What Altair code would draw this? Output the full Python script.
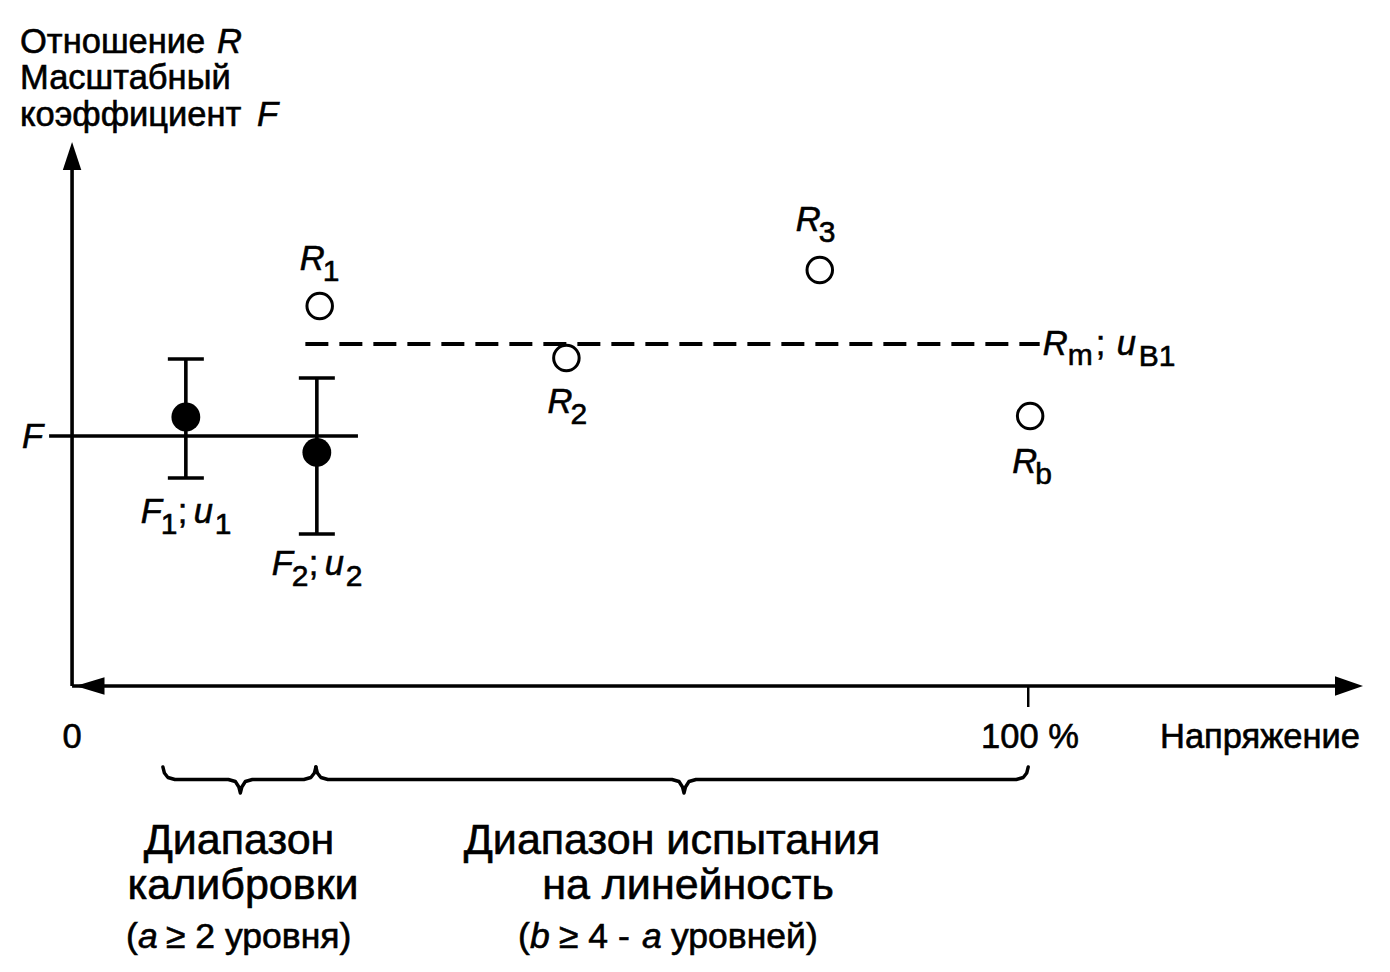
import altair as alt
import pandas as pd

# ---------------- chart geometry (plot area = whole page area) ----------------
W, H = 1374, 956
X_DOM = [-6.7, 137.0]          # voltage, % of full range
Y_DOM = [0.9736, 1.0214]       # ratio R / scale factor F
SX = (X_DOM[1] - X_DOM[0]) / W
SY = (Y_DOM[1] - Y_DOM[0]) / H


def px2x(px):
    return X_DOM[0] + (px - 8) * SX


def py2y(py):
    return Y_DOM[1] - (py - 8) * SY


def x2px(x):
    return 8 + (x - X_DOM[0]) / SX


def y2py(y):
    return 8 + (Y_DOM[1] - y) / SY


# ---------------- data ----------------
calib_names = ["1", "2"]
calib_x = [11.9, 25.6]
calib_F = [1.00095, 0.99918]
calib_hi = [1.00385, 1.00290]
calib_lo = [0.99790, 0.99510]

lin_names = ["1", "2", "3", "b"]
lin_x = [25.9, 51.7, 78.2, 100.2]
lin_R = [1.0065, 1.0039, 1.0083, 1.0010]

F_mean = 1.0
F_line_x = [-2.4, 29.9]
R_mean = 1.0046
R_line_x = [24.4, 101.2]

calib_range = [9.5, 25.5]
lin_range = [25.5, 100.0]
brace_tips = [17.6, 64.0]

axis_origin_y = 0.9875

FONT = "Liberation Sans"
LW = 3.6

x_sc = alt.Scale(domain=X_DOM, nice=False, zero=False)
y_sc = alt.Scale(domain=Y_DOM, nice=False, zero=False)


def X(f="x"):
    return alt.X(f + ":Q", scale=x_sc, axis=None)


def Y(f="y"):
    return alt.Y(f + ":Q", scale=y_sc, axis=None)


# ---------------- axes ----------------
yaxis = alt.Chart(pd.DataFrame({"x": [0.0], "y": [axis_origin_y], "y2": [py2y(165)]})).mark_rule(
    strokeWidth=LW, color="black").encode(x=X(), y=Y(), y2="y2:Q")
xaxis = alt.Chart(pd.DataFrame({"x": [0.0], "x2": [px2x(1340)], "y": [axis_origin_y]})).mark_rule(
    strokeWidth=LW, color="black").encode(x=X(), x2="x2:Q", y=Y())
tick100 = alt.Chart(pd.DataFrame({"x": [100.0], "y": [axis_origin_y], "y2": [py2y(707)]})).mark_rule(
    strokeWidth=2.5, color="black").encode(x=X(), y=Y(), y2="y2:Q")

arrow_up = alt.Chart(pd.DataFrame({"x": [0.0], "y": [py2y(156)]})).mark_point(
    shape="M0,-1L0.66,1L-0.66,1Z", size=784, filled=True, color="black", opacity=1).encode(x=X(), y=Y())
arrow_right = alt.Chart(pd.DataFrame({"x": [px2x(1349)], "y": [axis_origin_y]})).mark_point(
    shape="M1,0L-1,-0.7L-1,0.7Z", size=784, filled=True, color="black", opacity=1).encode(x=X(), y=Y())
arrow_left = alt.Chart(pd.DataFrame({"x": [px2x(90)], "y": [axis_origin_y]})).mark_point(
    shape="M-1,0L1,-0.6L1,0.6Z", size=841, filled=True, color="black", opacity=1).encode(x=X(), y=Y())

# ---------------- reference lines ----------------
f_line = alt.Chart(pd.DataFrame({"x": [F_line_x[0]], "x2": [F_line_x[1]], "y": [F_mean]})).mark_rule(
    strokeWidth=LW, color="black").encode(x=X(), x2="x2:Q", y=Y())
r_line = alt.Chart(pd.DataFrame({"x": [R_line_x[0]], "x2": [R_line_x[1]], "y": [R_mean]})).mark_rule(
    strokeWidth=4, color="black", strokeDash=[23, 11]).encode(x=X(), x2="x2:Q", y=Y())

# ---------------- calibration points with uncertainties ----------------
calib_df = pd.DataFrame({"x": calib_x, "y": calib_F, "hi": calib_hi, "lo": calib_lo})
err = alt.Chart(calib_df).mark_rule(strokeWidth=LW, color="black").encode(x=X(), y=Y("lo"), y2="hi:Q")
cap_hi = alt.Chart(calib_df).mark_tick(orient="horizontal", size=36, thickness=LW, color="black", opacity=1).encode(
    x=X(), y=Y("hi"))
cap_lo = alt.Chart(calib_df).mark_tick(orient="horizontal", size=36, thickness=LW, color="black", opacity=1).encode(
    x=X(), y=Y("lo"))
dots = alt.Chart(calib_df).mark_circle(size=830, color="black", opacity=1).encode(x=X(), y=Y())

# ---------------- linearity points ----------------
lin_df = pd.DataFrame({"x": lin_x, "y": lin_R})
rings = alt.Chart(lin_df).mark_point(shape="circle", size=650, filled=False, color="black",
                                     strokeWidth=3, opacity=1).encode(x=X(), y=Y())

# ---------------- braces ----------------
rows = []
for k, ((a, b), c) in enumerate(zip([calib_range, lin_range], brace_tips)):
    pts = [(0, 767), (1.5, 773), (5, 777.5), (12, 779.5)]
    path = [(a + dx * SX, py) for dx, py in pts]
    tip = [(-12, 779.5), (-5, 781.5), (-1.5, 787), (0, 793), (1.5, 787), (5, 781.5), (12, 779.5)]
    path += [(c + dx * SX, py) for dx, py in tip]
    path += [(b - dx * SX, py) for dx, py in reversed(pts)]
    for i, (xv, py) in enumerate(path):
        rows.append({"x": xv, "y": py2y(py), "b": k, "o": i})
braces = alt.Chart(pd.DataFrame(rows)).mark_line(strokeWidth=3.4, color="black", strokeJoin="round",
                                                 strokeCap="round").encode(
    x=X(), y=Y(), detail="b:N", order="o:Q")

# ---------------- text ----------------
normal_left, italic_left, normal_center = [], [], []


def add(lst, text, px, py, fs):
    lst.append({"x": px2x(px), "y": py2y(py), "t": text, "fs": fs})


MAIN, SUB = 34.5, 30

# axis title
add(normal_left, "Отношение", 20, 53, MAIN)
add(italic_left, "R", 217, 53, MAIN)
add(normal_left, "Масштабный", 20, 89, MAIN)
add(normal_left, "коэффициент", 20, 126, MAIN)
add(italic_left, "F", 257, 126, MAIN)
add(italic_left, "F", 22, 448, MAIN)

# point labels R_i (offsets from point in px)
lin_label_off = [(-20, -36), (-19, 55), (-24, -39), (-18, 57)]
for nm, xv, yv, (dx, dy) in zip(lin_names, lin_x, lin_R, lin_label_off):
    pxp, pyp = x2px(xv), y2py(yv)
    add(italic_left, "R", pxp + dx, pyp + dy, MAIN)
    add(normal_left, nm, pxp + dx + 23, pyp + dy + 11, SUB)

# calibration labels F_i; u_i
for nm, xv, yv, dy in zip(calib_names, calib_x, calib_F, [106, 123]):
    pxp = x2px(xv) - 45
    pyp = y2py(yv) + dy
    add(italic_left, "F", pxp, pyp, MAIN)
    add(normal_left, nm, pxp + 20, pyp + 11, SUB)
    add(normal_left, ";", pxp + 37, pyp, MAIN)
    add(italic_left, "u", pxp + 53, pyp, MAIN)
    add(normal_left, nm, pxp + 74, pyp + 11, SUB)

# R_m; u_B1
pxm = x2px(R_line_x[1]) + 3
pym = y2py(R_mean) + 11
add(italic_left, "R", pxm, pym, MAIN)
add(normal_left, "m", pxm + 25, pym + 10, SUB)
add(normal_left, ";", pxm + 53, pym, MAIN)
add(italic_left, "u", pxm + 74, pym, MAIN)
add(normal_left, "B1", pxm + 96, pym + 11, SUB)

# x axis labels
add(normal_center, "0", 72, 748, MAIN)
add(normal_center, "100 %", 1030, 748, MAIN)
add(normal_left, "Напряжение", 1160, 748, MAIN)

# range labels
BIG, SMALL = 43, 35.5
add(normal_center, "Диапазон", 239, 854, BIG)
add(normal_center, "калибровки", 243, 899, BIG)
add(normal_center, "Диапазон испытания", 672, 854, BIG)
add(normal_center, "на линейность", 688, 899, BIG)
add(normal_left, "(", 126, 948, SMALL)
add(italic_left, "a", 138, 948, SMALL)
add(normal_left, "≥ 2 уровня)", 166, 948, SMALL)
add(normal_left, "(", 518, 948, SMALL)
add(italic_left, "b", 530, 948, SMALL)
add(normal_left, "≥ 4 -", 559, 948, SMALL)
add(italic_left, "a", 642, 948, SMALL)
add(normal_left, "уровней)", 671, 948, SMALL)


def text_layer(rows_, align, style):
    return alt.Chart(pd.DataFrame(rows_)).mark_text(
        align=align, baseline="alphabetic", font=FONT, fontStyle=style, color="black",
        stroke="black", strokeWidth=0.6).encode(
        x=X(), y=Y(), text="t:N", size=alt.Size("fs:Q", scale=None, legend=None))


texts = [text_layer(normal_left, "left", "normal"),
         text_layer(italic_left, "left", "italic"),
         text_layer(normal_center, "center", "normal")]

chart = alt.layer(yaxis, xaxis, tick100, f_line, r_line, err, cap_hi, cap_lo, dots, rings,
                  braces, arrow_up, arrow_right, arrow_left, *texts).properties(
    width=W, height=H, padding=0, autosize=alt.AutoSizeParams(type="none"),
    background="white").configure_view(stroke=None)

chart.save("out.html", embed_options={"renderer": "svg", "actions": False})
